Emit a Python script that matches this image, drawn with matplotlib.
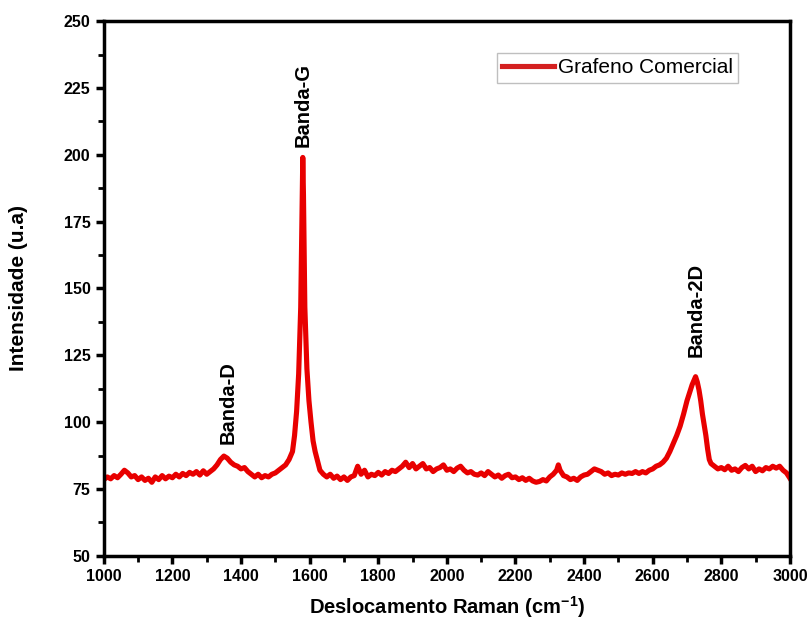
import matplotlib
matplotlib.use('Agg')
import matplotlib.pyplot as plt
from matplotlib.ticker import MultipleLocator

plt.rcParams['font.family'] = ['Liberation Sans', 'DejaVu Sans']
plt.rcParams['mathtext.fontset'] = 'custom'
plt.rcParams['mathtext.rm'] = 'Liberation Sans:bold'
plt.rcParams['mathtext.default'] = 'rm'

# Raman spectrum (wavenumber, intensity)
shift = [1000, 1010, 1020, 1030, 1040, 1050, 1060, 1070, 1080, 1090,
         1100, 1110, 1120, 1130, 1140, 1150, 1160, 1170, 1180, 1190,
         1200, 1210, 1220, 1230, 1240, 1250, 1260, 1270, 1280, 1290,
         1300, 1310, 1320, 1330, 1340, 1350, 1360, 1370, 1380, 1390,
         1400, 1410, 1420, 1430, 1440, 1450, 1460, 1470, 1480, 1490,
         1500, 1510, 1520, 1530, 1540, 1550, 1556, 1562, 1568, 1574,
         1578, 1580, 1582, 1586, 1592, 1598, 1604, 1610, 1616, 1622,
         1630, 1640, 1650, 1660, 1670, 1680, 1690, 1700, 1710, 1720,
         1730, 1740, 1750, 1760, 1770, 1780, 1790, 1800, 1810, 1820,
         1830, 1840, 1850, 1860, 1870, 1880, 1890, 1900, 1910, 1920,
         1930, 1940, 1950, 1960, 1970, 1980, 1990, 2000, 2010, 2020,
         2030, 2040, 2050, 2060, 2070, 2080, 2090, 2100, 2110, 2120,
         2130, 2140, 2150, 2160, 2170, 2180, 2190, 2200, 2210, 2220,
         2230, 2240, 2250, 2260, 2270, 2280, 2290, 2300, 2310, 2320,
         2325, 2330, 2340, 2350, 2360, 2370, 2380, 2390, 2400, 2410,
         2420, 2430, 2440, 2450, 2460, 2470, 2480, 2490, 2500, 2510,
         2520, 2530, 2540, 2550, 2560, 2570, 2580, 2590, 2600, 2610,
         2620, 2630, 2640, 2650, 2660, 2670, 2680, 2690, 2700, 2710,
         2715, 2720, 2725, 2730, 2735, 2740, 2745, 2750, 2755, 2760,
         2765, 2770, 2780, 2790, 2800, 2810, 2820, 2830, 2840, 2850,
         2860, 2870, 2880, 2890, 2900, 2910, 2920, 2930, 2940, 2950,
         2960, 2970, 2980, 2990, 3000]
intensity = [78.5, 79.5, 78.8, 80.0, 79.2, 80.5, 82.0, 81.0, 79.5, 80.0,
             78.5, 79.5, 78.2, 79.0, 77.5, 79.5, 78.5, 80.0, 78.8, 79.8,
             79.2, 80.5, 79.5, 80.8, 80.0, 81.2, 80.5, 81.5, 80.2, 81.8,
             80.5, 81.5, 82.5, 84.0, 86.0, 87.3, 86.5, 85.0, 84.0, 83.5,
             82.5, 83.0, 81.5, 80.5, 79.5, 80.5, 79.2, 80.0, 79.5, 80.5,
             81.0, 82.0, 83.0, 84.0, 86.0, 89.0, 95.0, 104.0, 118.0, 143.0,
             180.0, 199.0, 185.0, 143.0, 120.0, 108.0, 100.0, 93.0, 89.0, 86.0,
             82.0, 80.5, 79.5, 80.5, 79.0, 79.8, 78.5, 79.5, 78.2, 79.5,
             80.0, 83.5, 80.5, 82.0, 79.5, 80.5, 80.0, 81.2, 80.2, 81.5,
             80.8, 82.0, 81.5, 82.5, 83.5, 85.0, 83.0, 84.5, 82.5, 83.5,
             84.5, 82.5, 83.0, 81.5, 82.5, 83.0, 84.0, 82.0, 82.5, 81.5,
             82.8, 83.5, 82.0, 81.0, 81.5, 80.5, 80.2, 81.0, 80.0, 81.5,
             80.5, 79.5, 80.2, 79.0, 80.0, 80.5, 79.2, 79.5, 78.5, 79.2,
             78.2, 79.0, 78.0, 77.5, 77.8, 78.5, 78.0, 79.5, 80.5, 82.0,
             84.0, 82.0, 80.0, 79.5, 78.5, 79.0, 78.2, 79.5, 80.2, 80.5,
             81.5, 82.5, 82.0, 81.5, 80.5, 81.0, 80.0, 80.5, 80.2, 81.0,
             80.5, 81.0, 80.8, 81.5, 80.8, 81.5, 81.0, 82.0, 82.5, 83.5,
             84.0, 85.0, 86.5, 89.0, 92.0, 95.0, 98.5, 103.0, 108.0, 112.0,
             114.0, 115.5, 117.0, 115.0, 112.0, 108.0, 103.0, 99.0, 95.0, 90.0,
             86.0, 84.5, 83.5, 82.5, 83.0, 82.2, 83.5, 82.0, 82.5, 81.5,
             83.0, 83.8, 82.5, 83.5, 81.5, 82.5, 81.8, 83.0, 82.5, 83.5,
             82.8, 83.5, 82.0, 81.0, 79.0]

band_names = ['Banda-D', 'Banda-G', 'Banda-2D']
band_x = [1361, 1580, 2726]
band_y = [92.0, 203.0, 124.5]

fig = plt.figure(figsize=(8.11, 6.21), dpi=100)
ax = fig.add_axes([0.128, 0.105, 0.846, 0.861])

ax.plot(shift, intensity, color='#e80000', lw=3.7, label='Grafeno Comercial')

for name, bx, by in zip(band_names, band_x, band_y):
    ax.text(bx, by, name, rotation=90, ha='center', va='bottom',
            fontsize=14.5, fontweight='bold')

ax.set_xlim(1000, 3000)
ax.set_ylim(50, 250)
ax.xaxis.set_major_locator(MultipleLocator(200))
ax.xaxis.set_minor_locator(MultipleLocator(100))
ax.yaxis.set_major_locator(MultipleLocator(25))
ax.yaxis.set_minor_locator(MultipleLocator(12.5))
ax.tick_params(which='major', direction='out', length=6, width=2.5,
               labelsize=11.5)
ax.tick_params(which='minor', direction='out', length=4, width=2)
for lab in ax.get_xticklabels() + ax.get_yticklabels():
    lab.set_fontweight('bold')
for sp in ax.spines.values():
    sp.set_linewidth(2.5)

ax.set_xlabel(r'Deslocamento Raman (cm$^{-1}$)', fontsize=14.5,
              fontweight='bold')
ax.set_ylabel('Intensidade (u.a)', fontsize=15, fontweight='bold')
ax.xaxis.set_label_coords(0.5, -0.072)
ax.yaxis.set_label_coords(-0.11, 0.5)

leg = ax.legend(loc='upper right', bbox_to_anchor=(0.925, 0.94),
                fontsize=15, fancybox=False, handlelength=2.5,
                handletextpad=0.2, borderpad=0.25, borderaxespad=0)
leg.get_frame().set_edgecolor('#b0b0b0')
leg.get_frame().set_linewidth(1)
leg.get_lines()[0].set_color('#d42020')

fig.savefig('out.png', dpi=100)
